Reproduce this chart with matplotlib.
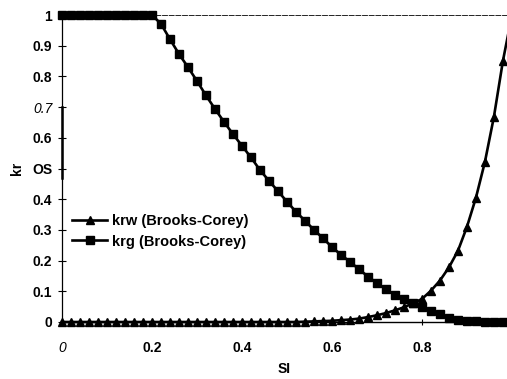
import matplotlib
matplotlib.use("Agg")
import matplotlib.pyplot as plt

plt.rcParams['font.family'] = ['Liberation Sans', 'DejaVu Sans']
plt.rcParams['font.weight'] = 'bold'

# Saturacao de liquido (SI) e permeabilidades relativas
sl = [0.00, 0.02, 0.04, 0.06, 0.08, 0.10, 0.12, 0.14, 0.16, 0.18,
      0.20, 0.22, 0.24, 0.26, 0.28, 0.30, 0.32, 0.34, 0.36, 0.38,
      0.40, 0.42, 0.44, 0.46, 0.48, 0.50, 0.52, 0.54, 0.56, 0.58,
      0.60, 0.62, 0.64, 0.66, 0.68, 0.70, 0.72, 0.74, 0.76, 0.78,
      0.80, 0.82, 0.84, 0.86, 0.88, 0.90, 0.92, 0.94, 0.96, 0.98,
      1.00]

krw = [0, 0, 0, 0, 0, 0, 0, 0, 0, 0,
       0, 0, 0, 0, 0, 0, 0, 0, 0, 0,
       0, 0, 0, 0, 0, 0, 0.0, 0.001, 0.002, 0.003,
       0.004, 0.006, 0.008, 0.011, 0.016, 0.022, 0.029, 0.038, 0.048, 0.061,
       0.075, 0.102, 0.135, 0.178, 0.232, 0.310, 0.405, 0.522, 0.669, 0.851,
       1.0]

krg = [1.0, 1.0, 1.0, 1.0, 1.0, 1.0, 1.0, 1.0, 1.0, 1.0,
       1.0, 0.971, 0.921, 0.873, 0.830, 0.785, 0.738, 0.694, 0.652, 0.612,
       0.574, 0.536, 0.495, 0.460, 0.426, 0.392, 0.359, 0.330, 0.300, 0.273,
       0.244, 0.219, 0.196, 0.172, 0.148, 0.127, 0.106, 0.088, 0.075, 0.062,
       0.050, 0.037, 0.025, 0.013, 0.007, 0.004, 0.002, 0.001, 0.0, 0.0,
       0.0]

y_ticks = [0, 0.1, 0.2, 0.3, 0.4, 0.5, 0.6, 0.7, 0.8, 0.9, 1.0]
y_labels = ['0', '0.1', '0.2', '0.3', '0.4', 'OS', '0.6', '0.7', '0.8', '0.9', '1']
x_ticks = [0, 0.2, 0.4, 0.6, 0.8]
x_labels = ['0', '0.2', '0.4', '0.6', '0.8']


def main():
    fig = plt.figure(figsize=(5.07, 3.79), dpi=100)
    ax = fig.add_axes([0.1223, 0.1504, 0.8777, 0.81])

    ax.plot(sl, krw, color='black', lw=1.9, marker='^', ms=5.5,
            label='krw (Brooks-Corey)', clip_on=False, zorder=3)
    ax.plot(sl, krg, color='black', lw=1.9, marker='s', ms=6,
            label='krg (Brooks-Corey)', clip_on=False, zorder=3)

    ax.set_xlim(0, 0.989)
    ax.set_ylim(0, 1)

    ax.spines['right'].set_visible(False)
    ax.spines['top'].set_linewidth(0.6)
    ax.spines['top'].set_linestyle((0, (6, 2)))
    ax.spines['left'].set_linewidth(0.9)
    ax.spines['bottom'].set_linewidth(1.0)
    # trecho mais grosso do eixo y no original
    ax.plot([0, 0], [0.47, 0.7], color='black', lw=1.8, clip_on=False)

    ax.set_yticks(y_ticks)
    ax.set_yticklabels(y_labels)
    ax.set_xticks(x_ticks)
    ax.set_xticklabels(x_labels)
    ax.tick_params(axis='both', direction='inout', length=6, width=0.8,
                   labelsize=10)
    ax.tick_params(axis='y', pad=4)
    ax.tick_params(axis='x', pad=12, length=4)

    ax.get_yticklabels()[7].set_style('italic')
    ax.get_yticklabels()[7].set_weight('normal')
    ax.get_xticklabels()[0].set_style('italic')
    ax.get_xticklabels()[0].set_weight('normal')

    ax.set_xlabel('SI', fontsize=10, fontweight='bold', labelpad=5)
    ax.set_ylabel('kr', fontsize=10, fontweight='bold', labelpad=6)

    ax.legend(loc='upper left', bbox_to_anchor=(0.0, 0.385), frameon=False,
              fontsize=10.5, handlelength=2.4, handletextpad=0.3,
              labelspacing=0.45, numpoints=1, borderaxespad=0.3)

    fig.savefig('out.png', dpi=100)
    plt.close(fig)


if __name__ == "__main__":
    main()
